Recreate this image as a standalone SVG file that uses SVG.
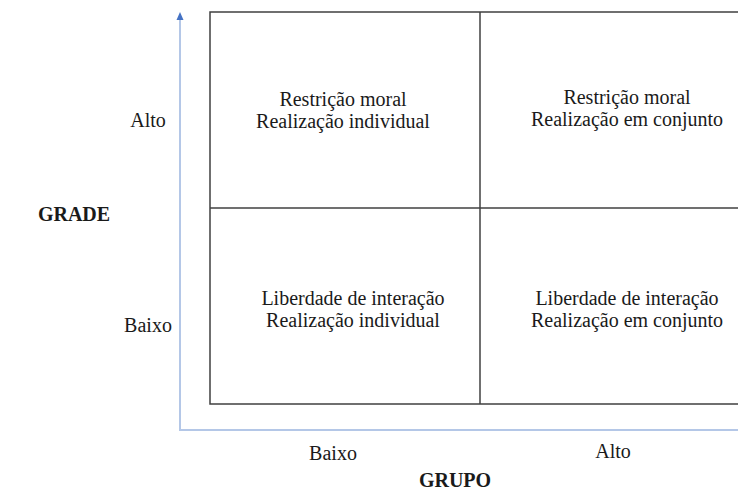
<svg xmlns="http://www.w3.org/2000/svg" width="738" height="490" viewBox="0 0 738 490">
<style>
.t{font-family:"Liberation Serif","Times New Roman",serif;font-size:20px;fill:#1a1a1a;text-anchor:middle}
.b{font-weight:bold}
.box{fill:none;stroke:#404040;stroke-width:1.5}
.ax{stroke:#b4c7e7;stroke-width:2;fill:none}
.ah{fill:#4472c4}
</style>
<g id="connectors">
<line class="ax" x1="180" y1="430" x2="180" y2="20"/>
<path class="ah" d="M176.5,20 L180,12 L183.5,20 Z"/>
<line class="ax" x1="179" y1="430" x2="738" y2="430"/>
</g>
<g id="grid">
<path class="box" d="M740,12 L210,12 L210,404 L740,404"/>
<line class="box" x1="480" y1="12" x2="480" y2="404"/>
<line class="box" x1="210" y1="208" x2="740" y2="208"/>
</g>
<g id="q-top-left">
<text class="t" x="343" y="106">Restrição moral</text>
<text class="t" x="343" y="128">Realização individual</text>
</g>
<g id="q-top-right">
<text class="t" x="627" y="104">Restrição moral</text>
<text class="t" x="627" y="126">Realização em conjunto</text>
</g>
<g id="q-bottom-left">
<text class="t" x="353" y="305">Liberdade de interação</text>
<text class="t" x="353" y="327">Realização individual</text>
</g>
<g id="q-bottom-right">
<text class="t" x="627" y="305">Liberdade de interação</text>
<text class="t" x="627" y="327">Realização em conjunto</text>
</g>
<g id="y-axis-labels">
<text class="t" x="148" y="127">Alto</text>
<text class="t" x="148" y="332">Baixo</text>
<text class="t b" x="74" y="221">GRADE</text>
</g>
<g id="x-axis-labels">
<text class="t" x="333" y="460">Baixo</text>
<text class="t" x="613" y="458">Alto</text>
<text class="t b" x="455" y="487">GRUPO</text>
</g>
</svg>
